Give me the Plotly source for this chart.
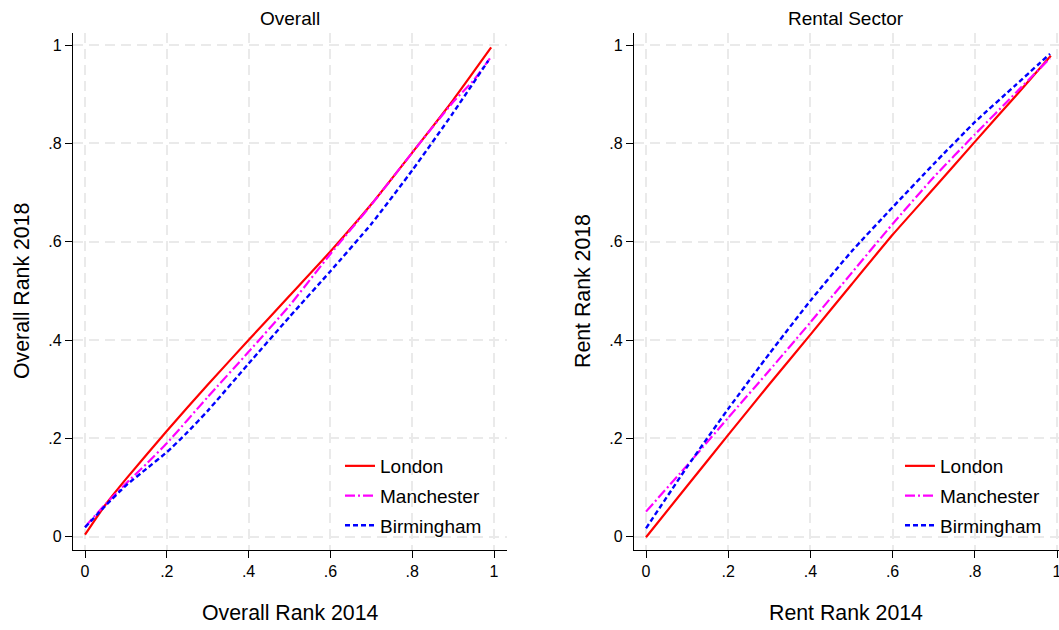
import plotly.graph_objects as go

# ---------------- data ----------------
series_names = ["London", "Manchester", "Birmingham"]

# Panel 1: Overall
overall_london_x = [0, 0.05, 0.1, 0.2, 0.3, 0.4, 0.5, 0.6, 0.7, 0.8, 0.9, 0.993]
overall_london_y = [0.004, 0.065, 0.117, 0.215, 0.309, 0.400, 0.490, 0.580, 0.676, 0.781, 0.888, 0.995]
overall_manchester_x = [0, 0.05, 0.1, 0.15, 0.2, 0.3, 0.4, 0.5, 0.6, 0.7, 0.8, 0.9, 0.95, 0.99]
overall_manchester_y = [0.020, 0.066, 0.108, 0.148, 0.190, 0.284, 0.376, 0.470, 0.575, 0.675, 0.781, 0.884, 0.928, 0.973]
overall_birmingham_x = [0, 0.05, 0.1, 0.15, 0.2, 0.25, 0.3, 0.4, 0.5, 0.6, 0.7, 0.8, 0.9, 0.986]
overall_birmingham_y = [0.019, 0.063, 0.104, 0.138, 0.172, 0.212, 0.256, 0.352, 0.447, 0.540, 0.636, 0.745, 0.862, 0.968]

# Panel 2: Rental sector
rent_london_x = [0, 0.1, 0.2, 0.3, 0.4, 0.5, 0.6, 0.7, 0.8, 0.9, 0.985]
rent_london_y = [-0.001, 0.103, 0.207, 0.310, 0.411, 0.513, 0.614, 0.708, 0.803, 0.897, 0.978]
rent_manchester_x = [0, 0.1, 0.2, 0.3, 0.4, 0.5, 0.6, 0.7, 0.8, 0.9, 0.983]
rent_manchester_y = [0.051, 0.145, 0.242, 0.338, 0.436, 0.536, 0.636, 0.731, 0.818, 0.903, 0.973]
rent_birmingham_x = [0, 0.1, 0.2, 0.3, 0.4, 0.5, 0.6, 0.7, 0.8, 0.9, 0.983]
rent_birmingham_y = [0.017, 0.142, 0.260, 0.372, 0.480, 0.580, 0.670, 0.758, 0.843, 0.919, 0.982]

tick_vals = [0, 0.2, 0.4, 0.6, 0.8, 1]
tick_text = ["0", ".2", ".4", ".6", ".8", "1"]

panel_titles = ["Overall", "Rental Sector"]
x_titles = ["Overall Rank 2014", "Rent Rank 2014"]
y_titles = ["Overall Rank 2018", "Rent Rank 2018"]

# ---------------- styling ----------------
VIEW_W = 1059
W, H = 1072, 630   # figure slightly wider than the window; the right edge is cropped like the reference
FONT = "Arial, Liberation Sans, sans-serif"
colors = {"London": "#FF0000", "Manchester": "#FF00FF", "Birmingham": "#0000FF"}
dashes = {"London": "solid", "Manchester": "10px,3px,2px,3px", "Birmingham": "5px,3px"}
widths = {"London": 2.2, "Manchester": 2.2, "Birmingham": 2.4}

panels = [
    {
        "data": {
            "London": (overall_london_x, overall_london_y),
            "Manchester": (overall_manchester_x, overall_manchester_y),
            "Birmingham": (overall_birmingham_x, overall_birmingham_y),
        },
        "px": (73, 507), "zero": 85, "one": 494, "center": 290, "ytitle_x": 22, "legend_x": 340,
    },
    {
        "data": {
            "London": (rent_london_x, rent_london_y),
            "Manchester": (rent_manchester_x, rent_manchester_y),
            "Birmingham": (rent_birmingham_x, rent_birmingham_y),
        },
        "px": (634, 1069), "zero": 646, "one": 1057, "center": 846, "ytitle_x": 583, "legend_x": 900,
    },
]

fig = go.Figure()

y_top_px, y_bot_px = 33, 550
y0_px, y1_px = 536.7, 45
ppu_y = (y0_px - y1_px)
y_range = [-(y_bot_px - y0_px) / ppu_y, 1 + (y1_px - y_top_px) / ppu_y]
y_domain = [(H - y_bot_px) / H, (H - y_top_px) / H]

for i, p in enumerate(panels):
    k = "" if i == 0 else str(i + 1)
    legend_id = "legend" if i == 0 else "legend2"
    for j, name in enumerate(series_names):
        xs, ys = p["data"][name]
        fig.add_trace(go.Scatter(
            x=xs, y=ys, mode="lines", name=name,
            line=dict(color=colors[name], width=widths[name], dash=dashes[name], shape="spline", smoothing=0.5),
            xaxis="x" + k, yaxis="y" + k, legend=legend_id,
            legendgroup=f"g{i}{j}",
        ))
    left, right = p["px"]
    ppu_x = p["one"] - p["zero"]
    x_range = [-(p["zero"] - left) / ppu_x, (right - p["zero"]) / ppu_x]
    axis_common = dict(
        showline=True, linecolor="#000000", linewidth=1.2,
        ticks="outside", ticklen=7, tickwidth=1.2, tickcolor="#000000",
        tickvals=tick_vals, ticktext=tick_text,
        tickfont=dict(family=FONT, size=16, color="#000000"),
        showgrid=True, gridcolor="#EAEAEA", gridwidth=1.5, griddash="10px,6px",
        zeroline=False, mirror=False,
    )
    fig.update_layout(**{
        "xaxis" + k: dict(domain=[left / W, right / W], range=x_range, anchor="y" + k, **axis_common),
        "yaxis" + k: dict(domain=y_domain, range=y_range, anchor="x" + k, **axis_common),
    })
    cx = p["center"] / W
    fig.add_annotation(text=panel_titles[i], x=cx, y=1 - 18 / H, xref="paper", yref="paper",
                       showarrow=False, font=dict(family=FONT, size=19, color="#000"),
                       xanchor="center", yanchor="middle")
    fig.add_annotation(text=x_titles[i], x=cx, y=1 - 613 / H, xref="paper", yref="paper",
                       showarrow=False, font=dict(family=FONT, size=21.3, color="#000"),
                       xanchor="center", yanchor="middle")
    fig.add_annotation(text=y_titles[i], x=p["ytitle_x"] / W, y=1 - 291 / H, xref="paper", yref="paper",
                       showarrow=False, textangle=-90, font=dict(family=FONT, size=21.3, color="#000"),
                       xanchor="center", yanchor="middle")

legend_common = dict(
    xanchor="left", yanchor="top", bgcolor="rgba(255,255,255,0)", borderwidth=0,
    font=dict(family=FONT, size=19, color="#000"), traceorder="grouped", tracegroupgap=2,
    itemclick=False, itemdoubleclick=False,
)
fig.update_layout(
    width=W, height=H,
    margin=dict(l=0, r=0, t=0, b=0),
    paper_bgcolor="#FFFFFF", plot_bgcolor="#FFFFFF",
    legend=dict(x=panels[0]["legend_x"] / W, y=1 - 447 / H, **legend_common),
    legend2=dict(x=panels[1]["legend_x"] / W, y=1 - 447 / H, **legend_common),
    showlegend=True,
)

fig.write_html(
    "out.html",
    config={"displayModeBar": False},
    post_script="document.body.style.margin='0';document.body.style.overflow='hidden';",
)
